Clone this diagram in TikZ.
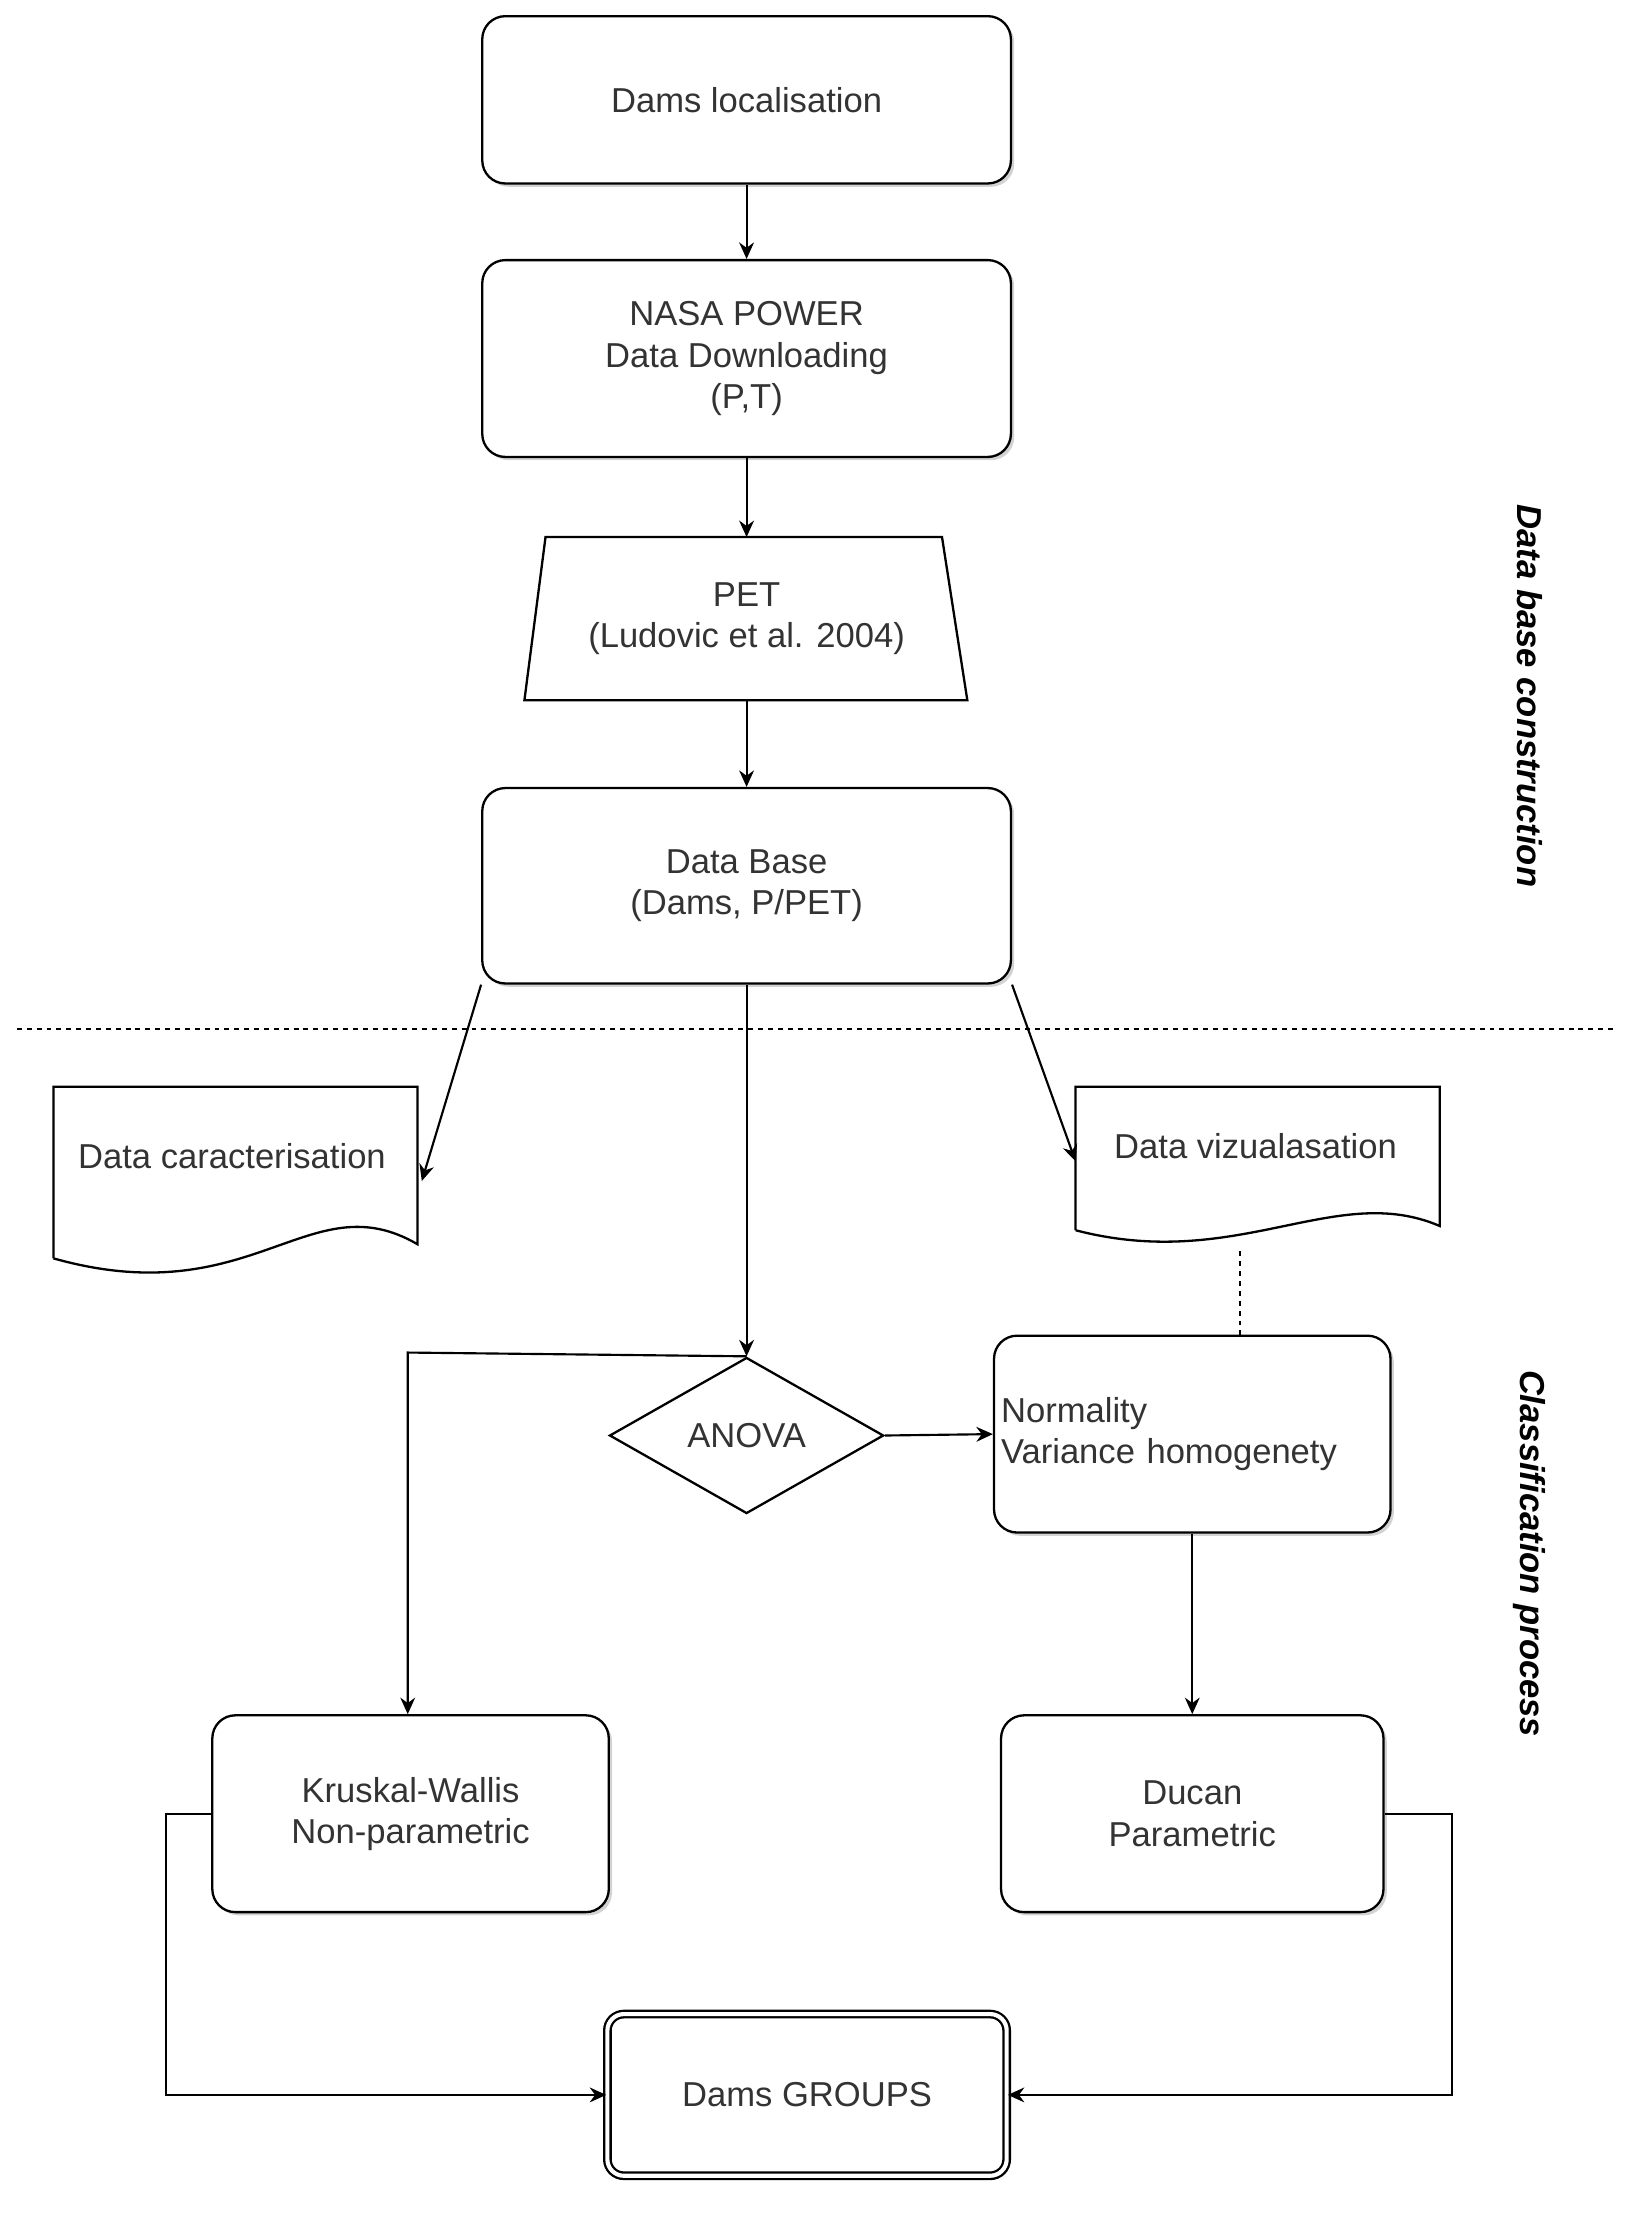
\documentclass[tikz,border=0pt]{standalone}
\usepackage{fontspec}
\setmainfont{Liberation Sans}
\usetikzlibrary{shapes.geometric,shadows,arrows.meta}
\begin{document}
\begin{tikzpicture}[x=0.03cm,y=-0.03cm,
  txt/.style={font=\fontsize{21}{25}\selectfont,align=center,text=black!80},
  box/.style={draw,fill=white,line width=1.4pt,rounded corners=14pt,txt,drop shadow={shadow xshift=2pt,shadow yshift=-2pt,opacity=0.35}},
  arr/.style={-{Stealth[length=10pt,width=9pt]},line width=1.3pt},
  side/.style={font=\fontsize{21}{25}\selectfont\bfseries\itshape,rotate=-90}]
\useasboundingbox (0,0) rectangle (1160,1574);
\node[box,minimum width=376*0.03cm,minimum height=119*0.03cm] (loc) at (531,71) {Dams localisation};
\node[box,minimum width=376*0.03cm,minimum height=140*0.03cm] (nasa) at (531,255) {NASA POWER\\Data Downloading\\(P,T)};
\draw[line width=1.4pt] (388,382)--(670,382)--(688,498)--(373,498)--cycle;
\node[txt] (pet) at (531,440) {PET\\(Ludovic et al. 2004)};
\coordinate (pett) at (531,382); \coordinate (petb) at (531,498);
\node[box,minimum width=376*0.03cm,minimum height=139*0.03cm] (db) at (531,630) {Data Base\\(Dams, P/PET)};
\draw[dashed,line width=1.2pt] (12,732)--(1150,732);
% documents
\draw[line width=1.4pt] (38,895)--(38,773)--(297,773)--(297,885) .. controls (220,840) and (180,935) .. (38,895);
\node[txt] (car) at (165,822) {Data caracterisation};
\coordinate (carr) at (300,840);
\draw[line width=1.4pt] (765,875)--(765,773)--(1024,773)--(1024,872) .. controls (950,840) and (880,905) .. (765,875);
\node[txt] (viz) at (893,815) {Data vizualasation};
\coordinate (vizl) at (765,826); \coordinate (vizb) at (882,890);
\node[diamond,draw,line width=1.4pt,aspect=1.75,minimum width=195*0.03cm,minimum height=111*0.03cm,inner sep=0pt,txt] (anova) at (531,1021) {ANOVA};
\node[box,minimum width=282*0.03cm,minimum height=140*0.03cm,align=left,text width=272*0.03cm,inner sep=2pt] (norm) at (848,1020) {Normality\\Variance homogenety};
\node[box,minimum width=282*0.03cm,minimum height=140*0.03cm] (kw) at (292,1290) {Kruskal-Wallis\\Non-parametric};
\node[box,minimum width=272*0.03cm,minimum height=140*0.03cm] (du) at (848,1290) {Ducan\\Parametric};
\node[box,double,double distance=2.5pt,minimum width=284*0.03cm,minimum height=115*0.03cm,rounded corners=10pt] (gr) at (574,1490) {Dams GROUPS};
\node[side] at (1088,495) {Data base construction};
\node[side] at (1088,1105) {Classification process};
\draw[arr] (loc)--(nasa);
\draw[arr] (nasa)--(pett);
\draw[arr] (petb)--(db);
\draw[arr] (db.south west)--(carr);
\draw[arr] (db.south east)--(vizl);
\draw[arr] (db.south)--(anova.north);
\draw[arr] (anova.north)--(290,962)--(kw.north-|290,0);
\draw[arr] (anova.east)--(norm.west);
\draw[dashed,line width=1.2pt] (vizb)--(norm.north-|vizb);
\draw[arr] (norm)--(du);
\draw[arr] (kw.west)--(118,1290)--(118,1490)--(gr.west);
\draw[arr] (du.east)--(1033,1290)--(1033,1490)--(gr.east);
\end{tikzpicture}
\end{document}
